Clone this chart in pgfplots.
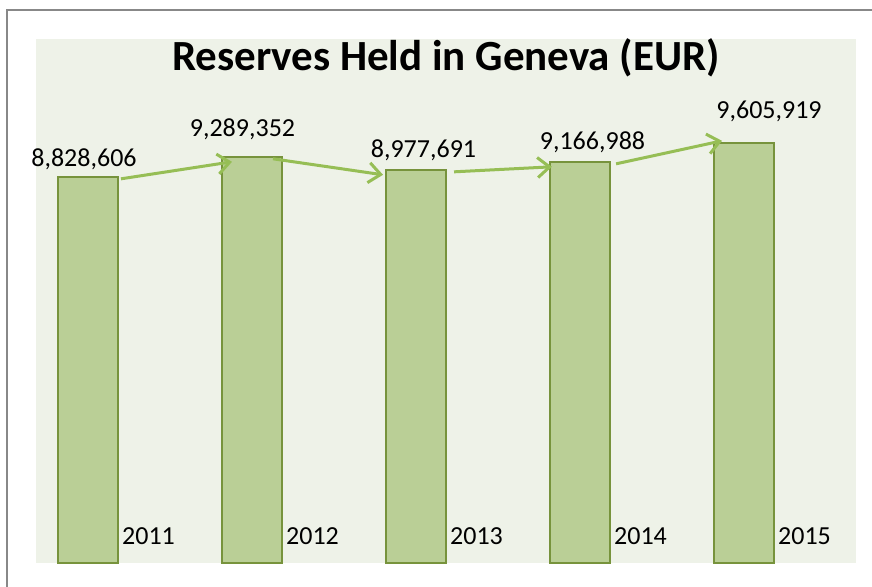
\documentclass[border=0pt]{standalone}
\usepackage{pgfplots}
\pgfplotsset{compat=1.18}
\usepackage{fontspec}
\setmainfont{Carlito}
\usetikzlibrary{arrows.meta}

\definecolor{bgc}{HTML}{EEF2E8}
\definecolor{barc}{HTML}{BACF96}
\definecolor{bard}{HTML}{77933C}
\definecolor{arrc}{HTML}{96BE55}
\definecolor{framec}{HTML}{888888}

\tikzset{
  lbl/.style={font=\fontsize{26}{30}\selectfont},
  trend/.style={arrc, line width=3pt, -{Straight Barb[length=12pt,width=20pt]}},
}

\begin{document}
\begin{tikzpicture}[x=1pt,y=1pt]
\useasboundingbox (-36,-23) rectangle (836,563);
% outer chart frame (runs off the right and bottom edges)
\draw[framec, line width=2pt] (-29,-40) -- (-29,553) -- (900,553);

\begin{axis}[
  at={(0,0)}, anchor=south west,
  scale only axis,
  width=820pt, height=524pt,
  xmin=-0.317, xmax=4.683,
  ymin=0, ymax=11.98e6,
  axis background/.style={fill=bgc},
  axis line style={draw=none},
  xtick=\empty, ytick=\empty,
  clip=false,
]
% bars
\addplot[ybar, bar width=60pt, fill=barc, draw=bard, line width=1.8pt]
  coordinates {(0,8828606) (1,9289352) (2,8977691) (3,9166988) (4,9605919)};

% trend arrows between bars
\addplot[trend] coordinates {(0.201,8783000) (0.878,9172000)};
\addplot[trend] coordinates {(1.128,9241000) (1.799,8875000)};
\addplot[trend] coordinates {(2.232,8943000) (2.829,9058000)};
\addplot[trend] coordinates {(3.220,9126000) (3.866,9652000)};

% value labels
\node[lbl, anchor=base, xshift=-4pt, yshift=10pt] at (axis cs:0,8828606) {8,828,606};
\node[lbl, anchor=base, xshift=-9.5pt, yshift=20pt] at (axis cs:1,9289352) {9,289,352};
\node[lbl, anchor=base, xshift=7.5pt, yshift=12.5pt] at (axis cs:2,8977691) {8,977,691};
\node[lbl, anchor=base, xshift=12.5pt, yshift=13pt] at (axis cs:3,9166988) {9,166,988};
\node[lbl, anchor=base, xshift=25pt, yshift=24pt] at (axis cs:4,9605919) {9,605,919};

% year labels
\node[lbl, anchor=base west, inner sep=0pt, xshift=34pt, yshift=19pt] at (axis cs:0,0) {2011};
\node[lbl, anchor=base west, inner sep=0pt, xshift=34pt, yshift=19pt] at (axis cs:1,0) {2012};
\node[lbl, anchor=base west, inner sep=0pt, xshift=34pt, yshift=19pt] at (axis cs:2,0) {2013};
\node[lbl, anchor=base west, inner sep=0pt, xshift=34pt, yshift=19pt] at (axis cs:3,0) {2014};
\node[lbl, anchor=base west, inner sep=0pt, xshift=34pt, yshift=19pt] at (axis cs:4,0) {2015};

% title
\node[anchor=base, yshift=-32pt, font=\fontsize{43}{50}\selectfont\bfseries]
  at (rel axis cs:0.5,1) {Reserves Held in Geneva (EUR)};
\end{axis}
\end{tikzpicture}
\end{document}
